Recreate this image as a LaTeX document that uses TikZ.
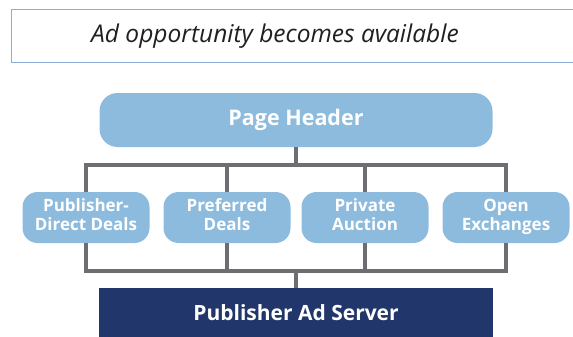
\documentclass[tikz,border=0pt]{standalone}
\usepackage{fontspec}
\setmainfont{Open Sans}
\usepackage{xcolor}
\usepackage{tikz}

\definecolor{lightblue}{HTML}{8DBBDE}
\definecolor{navy}{HTML}{21366A}
\definecolor{bargray}{HTML}{6D6E71}
\definecolor{framblue}{HTML}{8AADD9}
\definecolor{textgray}{HTML}{231F20}

\begin{document}
\begin{tikzpicture}[x=1pt,y=-1pt,
    bubble/.style={fill=lightblue,text=white,rounded corners=15pt,align=center,
        minimum width=127pt,minimum height=51pt,inner sep=0pt,font=\fontsize{17}{19}\selectfont\bfseries},
    link/.style={draw=bargray,line width=4pt}]
\useasboundingbox (0,0) rectangle (573,337);

    % opportunity banner
    \node[draw=framblue,line width=1pt,minimum width=570pt,minimum height=53pt] (ad) at (296,36.5) {};
    \node[text=textgray,font=\fontsize{24.5}{24.5}\selectfont\itshape] (adtext) at (275,36.5)
        {Ad opportunity becomes available};

    \node[bubble,rounded corners=18pt,minimum width=393pt,minimum height=54pt,
        font=\fontsize{21.5}{21.5}\selectfont\bfseries] (header) at (296,120) {Page Header};

    \node[bubble] (pdd) at (86,217.5) {\strut Publisher-\\\strut Direct Deals};
    \node[bubble] (pref) at (227,217.5) {\strut Preferred\\\strut Deals};
    \node[bubble] (priv) at (365,217.5) {\strut Private\\\strut Auction};
    \node[bubble] (open) at (506,217.5) {\strut Open\\\strut Exchanges};

    \node[fill=navy,text=white,minimum width=394pt,minimum height=50pt,inner sep=0pt,
        font=\fontsize{21}{21}\selectfont\bfseries] (server) at (296,313) {Publisher Ad Server};

    \coordinate (upper) at (296,165);
    \coordinate (lower) at (296,271);

    % upper tree
    \draw[link] (header.south) -- (header.south |- upper);
    \draw[link,line cap=rect] (pdd.north |- upper) -- (open.north |- upper);
    \draw[link] (pdd.north) -- (pdd.north |- upper);
    \draw[link] (pref.north) -- (pref.north |- upper);
    \draw[link] (priv.north) -- (priv.north |- upper);
    \draw[link] (open.north) -- (open.north |- upper);

    % lower tree
    \draw[link,line cap=rect] (pdd.south |- lower) -- (open.south |- lower);
    \draw[link] (pdd.south) -- (pdd.south |- lower);
    \draw[link] (pref.south) -- (pref.south |- lower);
    \draw[link] (priv.south) -- (priv.south |- lower);
    \draw[link] (open.south) -- (open.south |- lower);
    \draw[link] (lower) -- (server.north);

\end{tikzpicture}
\end{document}
